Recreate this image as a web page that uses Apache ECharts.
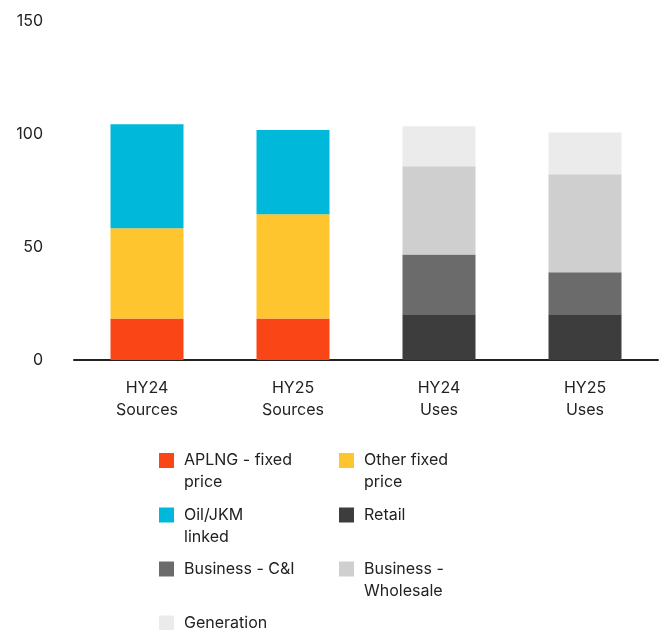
<!DOCTYPE html>
<html>
<head>
<meta charset="utf-8">
<script src="https://cdn.jsdelivr.net/npm/echarts@6/dist/echarts.min.js"></script>
<style>html,body{margin:0;padding:0;background:#fff;}#c{width:660px;height:630px;}</style>
</head>
<body>
<div id="c"></div>
<script>
const categories = ['HY24\nSources', 'HY25\nSources', 'HY24\nUses', 'HY25\nUses'];
const yTicks = [0, 50, 100, 150];
const aplngFixed = [18.4, 18.4, null, null];
const otherFixed = [39.9, 46.1, null, null];
const oilJkm = [46.0, 37.3, null, null];
const retail = [null, null, 20.2, 20.2];
const businessCI = [null, null, 26.5, 18.6];
const businessWholesale = [null, null, 39.0, 43.4];
const generation = [null, null, 17.7, 18.5];

const seriesNames = ['APLNG - fixed price', 'Other fixed price', 'Oil/JKM linked', 'Retail',
  'Business - C&I', 'Business - Wholesale', 'Generation'];
const legendLines = [
  ['APLNG - fixed', 'price'],
  ['Other fixed', 'price'],
  ['Oil/JKM', 'linked'],
  ['Retail'],
  ['Business - C&I'],
  ['Business -', 'Wholesale'],
  ['Generation']
];
const seriesData = [aplngFixed, otherFixed, oilJkm, retail, businessCI, businessWholesale, generation];
const seriesColors = ['#FA4616', '#FEC52E', '#00B9DA', '#3D3D3D', '#6B6B6B', '#CFCFCF', '#EBEBEB'];

const FONT = 'Inter';
const legendPos = [
  [159, 453], [339, 453],
  [159, 507.5], [339, 507.5],
  [159, 561.5], [339, 561.5],
  [159, 615.5]
];

const legends = seriesNames.map((name, i) => {
  const lines = legendLines[i];
  const twoLine = lines.length === 2;
  // two-line labels get a leading blank line so the first line sits beside the icon
  const label = twoLine ? '\n' + lines[0] + '\n' + lines[1] : lines[0];
  return {
    left: legendPos[i][0],
    top: legendPos[i][1] - (twoLine ? 25.5 : 3.5),
    padding: 0,
    itemWidth: 15,
    itemHeight: 15,
    icon: 'rect',
    selectedMode: false,
    data: [{ name: name, itemStyle: { color: seriesColors[i] } }],
    formatter: function () { return label; },
    textStyle: {
      fontFamily: FONT, fontSize: 16, color: '#222', lineHeight: 22,
      padding: [0, 0, 0, 5], backgroundColor: 'rgba(0,0,0,0)'
    }
  };
});

const chart = echarts.init(document.getElementById('c'), null, { renderer: 'canvas' });
chart.setOption({
  animation: false,
  backgroundColor: '#fff',
  grid: { left: 74, right: 2, top: 21, bottom: 270, containLabel: false },
  legend: legends,
  xAxis: {
    type: 'category',
    data: categories,
    axisTick: { show: false },
    axisLine: { show: true, lineStyle: { color: '#222', width: 2 } },
    axisLabel: { fontFamily: FONT, fontSize: 16, color: '#222', lineHeight: 22, margin: 17, interval: 0 },
    splitLine: { show: false }
  },
  yAxis: {
    type: 'value',
    min: yTicks[0],
    max: yTicks[yTicks.length - 1],
    interval: 50,
    axisLine: { show: false },
    axisTick: { show: false },
    splitLine: { show: false },
    axisLabel: { fontFamily: FONT, fontSize: 16, color: '#222', margin: 31 }
  },
  series: seriesNames.map((name, i) => ({
    name: name,
    type: 'bar',
    stack: 'total',
    barWidth: '50%',
    data: seriesData[i],
    itemStyle: { color: seriesColors[i] },
    emphasis: { disabled: true }
  }))
});
</script>
</body>
</html>
